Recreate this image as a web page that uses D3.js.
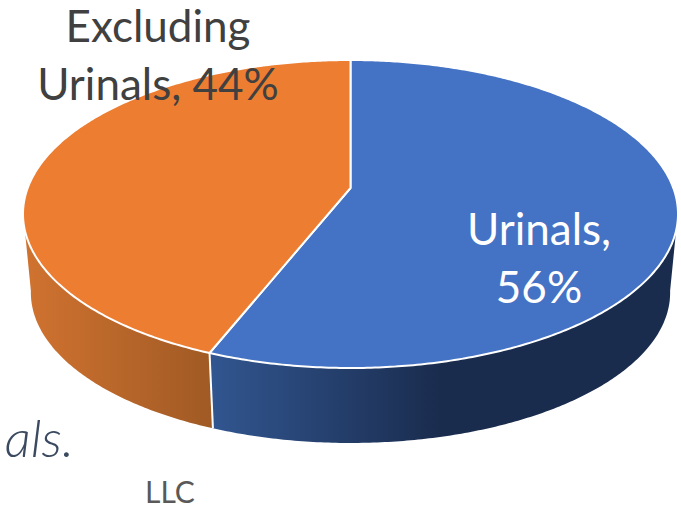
<!DOCTYPE html>
<html>
<head>
<meta charset="utf-8">
<script src="https://cdn.jsdelivr.net/npm/d3@7"></script>
<style>
  html, body { margin: 0; padding: 0; background: #fff; overflow: hidden; }
  svg { display: block; }
  text { font-family: Lato, "Open Sans", sans-serif; }
</style>
</head>
<body>
<div class="pie-plot"></div>
<script>
// chart data
const categories = ["Urinals", "Excluding Urinals"];
const values = [56, 44];
const labelLines = [["Urinals,", "56%"], ["Excluding", "Urinals, 44%"]];
const topColors = ["#4472c4", "#ed7d31"];

const width = 681;
const height = 508;

const svg = d3.select('.pie-plot')
  .append('svg')
  .attr('width', width)
  .attr('height', height)

// tilted disc: ellipse seen in perspective, so the pie centre is above the ellipse centre
const cx = 350.5, cy = 214, rx = 327.5, ry = 154, hubY = 188;
const persp = (hubY - cy) / ry;

function project(angle) {
  const u = Math.sin(angle), v = -Math.cos(angle);
  const w = 1 + persp * v;
  return [
    cx + rx * Math.sqrt(1 - persp * persp) * u / w,
    cy + (ry * v + (hubY - cy)) / w
  ];
}
// the underside of the disc, a bit smaller and lower
const depthScale = 0.976, depthShift = 83.8;
function lower(p) {
  return [cx + depthScale * (p[0] - cx), depthScale * p[1] + depthShift];
}

const pie = d3.pie().sort(null).value(d => d).startAngle(0).endAngle(2 * Math.PI);
const slices = pie(values);
const line = d3.line();

function arcPoints(a0, a1) {
  const n = Math.max(2, Math.ceil(Math.abs(a1 - a0) / 0.01));
  return d3.range(n + 1).map(i => project(a0 + (a1 - a0) * i / n));
}

// gradients on the walls
const defs = svg.append('defs');
const wallGradients = [
  { id: 'wall0', x1: 215, x2: 440, stops: ["#31558f", "#1a2c4e"] },
  { id: 'wall1', x1: 30, x2: 212, stops: ["#cf7230", "#a05a24"] }
];
wallGradients.forEach(g => {
  const grad = defs.append('linearGradient')
    .attr('id', g.id)
    .attr('gradientUnits', 'userSpaceOnUse')
    .attr('x1', g.x1).attr('x2', g.x2)
    .attr('y1', 0).attr('y2', 0);
  grad.append('stop').attr('offset', 0).attr('stop-color', g.stops[0]);
  grad.append('stop').attr('offset', 1).attr('stop-color', g.stops[1]);
});

// walls: only the part of each slice that faces the viewer
const frontStart = Math.PI * 0.55, frontEnd = Math.PI * 1.45;
slices.forEach((s, i) => {
  const a0 = Math.max(s.startAngle, frontStart);
  const a1 = Math.min(s.endAngle, frontEnd);
  const topEdge = arcPoints(a0, a1);
  const bottomEdge = topEdge.map(lower).reverse();
  svg.append('path')
    .attr('d', line(topEdge.concat(bottomEdge)) + 'Z')
    .attr('fill', 'url(#wall' + i + ')');
});

// white seam between the two walls
const seam = project(slices[0].endAngle);
svg.append('path')
  .attr('d', line([seam, lower(seam)]))
  .attr('stroke', '#fff')
  .attr('stroke-width', 2)
  .attr('fill', 'none');

// top face
svg.selectAll('path.slice')
  .data(slices)
  .enter()
  .append('path')
  .attr('class', 'slice')
  .attr('d', d => line([[cx, hubY]].concat(arcPoints(d.startAngle, d.endAngle))) + 'Z')
  .attr('fill', (d, i) => topColors[i])
  .attr('stroke', '#fff')
  .attr('stroke-width', 2)
  .attr('stroke-linejoin', 'round');

// data labels
const labelPos = [[539, 245], [158, 42]];
const labelFill = ["#fff", "#404040"];
labelLines.forEach((lines, i) => {
  svg.append('text')
    .attr('text-anchor', 'middle')
    .attr('font-size', 44)
    .attr('fill', labelFill[i])
    .selectAll('tspan')
    .data(lines)
    .enter()
    .append('tspan')
    .attr('x', labelPos[i][0])
    .attr('y', (d, j) => labelPos[i][1] + j * 58)
    .text(d => d);
});

// bits of the slide behind the chart
svg.append('text')
  .attr('x', 74).attr('y', 457)
  .attr('text-anchor', 'end')
  .attr('font-size', 52)
  .attr('font-style', 'italic')
  .attr('font-weight', 300)
  .attr('fill', '#3b4a60')
  .text('als.');

svg.append('text')
  .attr('x', 170).attr('y', 503)
  .attr('text-anchor', 'middle')
  .attr('font-size', 30)
  .attr('fill', '#595959')
  .text('LLC');
</script>
</body>
</html>
